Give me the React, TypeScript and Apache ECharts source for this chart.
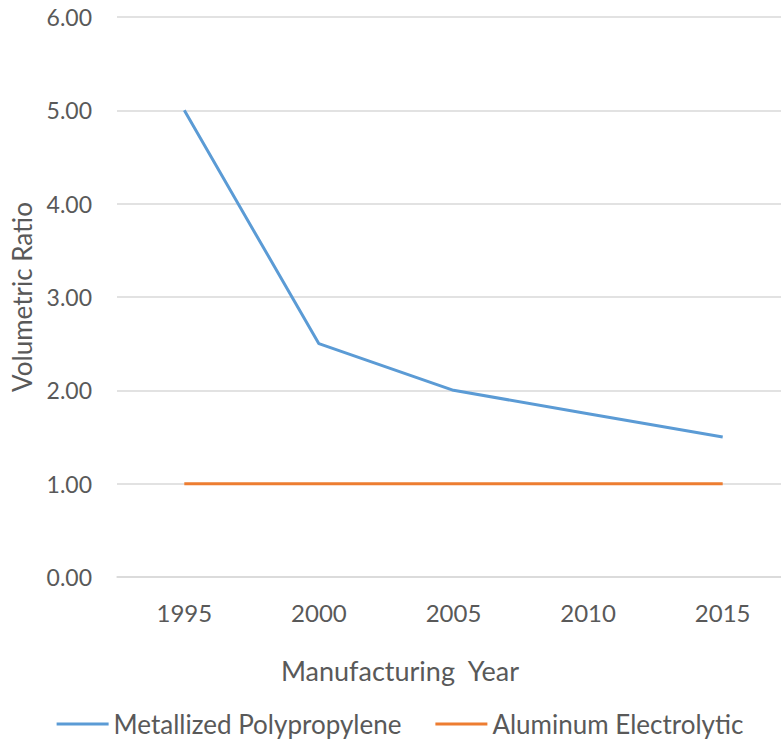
import React, { useEffect, useRef } from "react";
import * as echarts from "echarts";

const years = ["1995", "2000", "2005", "2010", "2015"];
const metallizedPolypropylene = [5.0, 2.5, 2.0, 1.75, 1.5];
const aluminumElectrolytic = [1.0, 1.0, 1.0, 1.0, 1.0];

const FONT = "Lato";
const TEXT_COLOR = "#595959";
const GRID_COLOR = "#D9D9D9";

export default function App() {
  const ref = useRef<HTMLDivElement>(null);

  useEffect(() => {
    if (!ref.current) return;
    const chart = echarts.init(ref.current, undefined, { renderer: "svg" });
    chart.setOption({
      animation: false,
      backgroundColor: "#ffffff",
      grid: { left: 117, right: 10, top: 17, bottom: 168, containLabel: false },
      xAxis: {
        type: "category",
        data: years,
        boundaryGap: true,
        axisLine: { show: true, lineStyle: { color: GRID_COLOR, width: 1.5 } },
        axisTick: { show: false },
        axisLabel: { color: TEXT_COLOR, fontFamily: FONT, fontSize: 24, margin: 23 },
      },
      yAxis: {
        type: "value",
        min: 0,
        max: 6,
        interval: 1,
        axisLine: { show: false },
        axisTick: { show: false },
        splitLine: { lineStyle: { color: GRID_COLOR, width: 1.5 } },
        axisLabel: {
          color: TEXT_COLOR,
          fontFamily: FONT,
          fontSize: 23,
          margin: 25,
          formatter: (v: number) => v.toFixed(2),
        },
      },
      legend: {
        left: "center",
        top: 709,
        padding: 0,
        itemWidth: 52,
        itemHeight: 3,
        itemGap: 34,
        icon: "rect",
        textStyle: { color: TEXT_COLOR, fontFamily: FONT, fontSize: 26, lineHeight: 30 },
        data: ["Metallized Polypropylene", "Aluminum Electrolytic"],
      },
      graphic: [
        {
          type: "text",
          x: 400,
          y: 670,
          style: {
            text: "Manufacturing  Year",
            fill: TEXT_COLOR,
            font: `27px ${FONT}`,
            textAlign: "center",
            textVerticalAlign: "middle",
          },
        },
        {
          type: "text",
          x: 22,
          y: 297,
          rotation: Math.PI / 2,
          style: {
            text: "Volumetric Ratio",
            fill: TEXT_COLOR,
            font: `26px ${FONT}`,
            textAlign: "center",
            textVerticalAlign: "middle",
          },
        },
      ],
      series: [
        {
          name: "Metallized Polypropylene",
          type: "line",
          data: metallizedPolypropylene,
          symbol: "none",
          itemStyle: { color: "#5B9BD5" },
          lineStyle: { color: "#5B9BD5", width: 3 },
        },
        {
          name: "Aluminum Electrolytic",
          type: "line",
          data: aluminumElectrolytic,
          symbol: "none",
          itemStyle: { color: "#ED7D31" },
          lineStyle: { color: "#ED7D31", width: 3 },
        },
      ],
    });
    return () => chart.dispose();
  }, []);

  return (
    <div
      ref={ref}
      style={{ position: "fixed", left: 0, top: 0, width: 800, height: 745 }}
    />
  );
}
